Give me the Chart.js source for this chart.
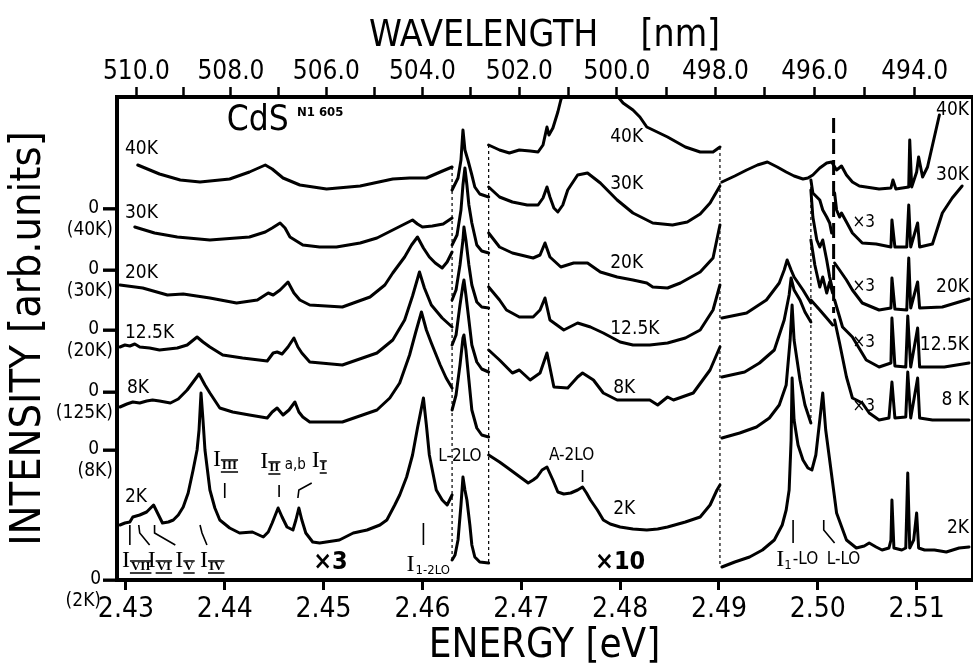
<!DOCTYPE html>
<html><head><meta charset="utf-8">
<script src="https://cdn.jsdelivr.net/npm/chart.js@4/dist/chart.umd.min.js"></script>
<style>html,body{margin:0;padding:0;background:#fff;}canvas{display:block;}</style>
</head><body>
<canvas id="c" width="973" height="666"></canvas>
<script>
// ---------- axis values ----------
const energyTicks = [2.43, 2.44, 2.45, 2.46, 2.47, 2.48, 2.49, 2.50, 2.51];
const wavelengthTicks = [510, 509, 508, 507, 506, 505, 504, 503, 502, 501, 500, 499, 498, 497, 496, 495, 494];
const zeroLevels = [0, 13.0, 18.8, 25.0, 31.0, 37.1];
const zeroNames = ['2K', '8K', '125K', '20K', '30K', '40K'];

// ---------- spectra: [energy eV, intensity arb.u.], null = segment break ----------
const T40 = [
[2.4312,41.5],[2.4334,40.6],[2.4355,40.0],[2.4375,39.8],[2.4405,40.1],[2.4425,40.8],[2.4441,41.5],[2.4448,41.1],[2.4459,40.2],[2.4476,39.5],[2.4503,39.1],[2.4537,39.4],[2.4570,40.1],[2.4587,40.2],[2.4604,40.2],[2.4618,40.8],[2.4630,41.3],
null,
[2.4630,39.0],[2.4636,40.2],[2.4639,42.0],[2.4641,45.0],[2.4643,43.0],[2.4646,42.0],[2.4650,40.5],[2.4653,39.3],[2.4658,38.6],[2.4667,38.3],
null,
[2.4667,43.5],[2.4678,43.0],[2.4688,42.7],[2.4698,43.0],[2.4709,42.9],[2.4717,42.8],[2.4722,43.5],[2.4726,45.3],[2.4728,44.5],[2.4732,45.2],[2.4737,46.8],[2.4740,48.0],[2.4754,52.0],[2.4780,53.0],[2.4798,48.3],[2.4803,47.7],[2.4813,47.0],[2.4820,46.3],[2.4827,45.3],[2.4848,44.3],[2.4866,43.3],[2.4881,42.8],[2.4894,42.8],[2.4901,43.3],
null,
[2.4903,39.8],[2.4916,40.4],[2.4928,41.0],[2.4939,41.5],[2.4949,41.8],[2.4959,41.3],[2.4968,40.8],[2.4976,40.4],[2.4985,40.1],[2.4990,40.2],[2.4995,40.5],[2.5002,41.2],[2.5009,41.7],[2.5014,41.8],[2.5019,41.0],[2.5024,41.4],[2.5029,40.5],[2.5035,39.8],[2.5042,39.4],[2.5062,39.1],[2.5074,39.2],[2.5076,40.0],[2.5079,39.1],[2.5092,39.3],[2.5093,44.0],[2.5095,39.3],[2.5100,40.8],[2.5102,42.3],[2.5106,40.3],[2.5111,41.3],[2.5123,46.5]
];
const T30 = [
[2.4309,35.3],[2.4329,34.7],[2.4352,34.3],[2.4385,34.0],[2.4425,34.3],[2.4441,34.8],[2.4448,35.2],[2.4456,35.7],[2.4461,35.2],[2.4466,34.3],[2.4479,33.5],[2.4496,33.3],[2.4513,33.3],[2.4537,33.7],[2.4554,34.2],[2.4570,35.0],[2.4582,35.6],[2.4590,36.0],[2.4595,35.6],[2.4600,35.3],[2.4610,35.4],[2.4621,35.6],[2.4630,36.2],
null,
[2.4630,33.5],[2.4635,34.5],[2.4639,37.0],[2.4641,39.5],[2.4643,41.2],[2.4645,39.5],[2.4647,37.5],[2.4650,35.7],[2.4655,33.5],[2.4660,32.9],[2.4667,32.7],
null,
[2.4667,39.3],[2.4678,38.3],[2.4691,37.8],[2.4706,37.5],[2.4717,37.5],[2.4722,38.2],[2.4726,39.3],[2.4729,38.3],[2.4733,37.2],[2.4737,36.8],[2.4742,37.5],[2.4747,39.0],[2.4757,40.5],[2.4767,40.7],[2.4780,39.7],[2.4797,38.0],[2.4813,36.7],[2.4833,35.7],[2.4853,35.5],[2.4868,35.8],[2.4881,36.6],[2.4891,37.7],[2.4901,39.4],
null,
[2.4993,40.0],[2.4995,38.7],[2.5002,38.0],[2.5005,37.0],[2.5009,36.3],[2.5012,35.7],[2.5014,34.7],
null,
[2.5017,38.7],[2.5019,37.0],[2.5022,36.3],[2.5024,36.7],[2.5029,35.8],[2.5035,34.7],[2.5045,33.7],[2.5059,33.6],[2.5074,33.3],[2.5075,36.0],[2.5078,33.3],[2.5090,33.3],[2.5092,37.5],[2.5094,33.3],[2.5101,35.7],[2.5103,33.3],[2.5116,33.6],[2.5126,36.7],[2.5136,38.2],[2.5146,39.4]
];
const T20 = [
[2.4294,29.5],[2.4317,29.2],[2.4342,28.5],[2.4358,28.6],[2.4385,28.2],[2.4412,27.7],[2.4433,28.0],[2.4444,28.7],[2.4449,28.5],[2.4456,29.0],[2.4464,29.8],[2.4470,28.7],[2.4476,28.0],[2.4486,27.5],[2.4519,27.3],[2.4547,28.3],[2.4562,29.5],[2.4570,30.7],[2.4582,32.3],[2.4589,33.5],[2.4595,34.3],[2.4601,33.2],[2.4607,32.3],[2.4613,31.7],[2.4620,31.2],[2.4625,31.8],[2.4630,32.8],
null,
[2.4630,28.0],[2.4634,29.0],[2.4638,31.5],[2.4641,34.0],[2.4642,35.3],[2.4644,34.0],[2.4647,31.5],[2.4650,29.5],[2.4655,27.8],[2.4660,27.3],[2.4667,27.2],
null,
[2.4667,34.7],[2.4678,33.3],[2.4691,32.7],[2.4712,32.2],[2.4719,32.5],[2.4724,33.7],[2.4729,32.3],[2.4740,31.3],[2.4753,31.7],[2.4767,31.7],[2.4780,30.8],[2.4797,30.3],[2.4813,30.0],[2.4827,29.7],[2.4833,29.3],[2.4848,29.2],[2.4861,29.7],[2.4881,30.8],[2.4894,32.2],[2.4901,35.5],
null,
[2.4903,26.2],[2.4928,26.7],[2.4948,28.0],[2.4961,29.7],[2.4966,31.0],[2.4969,32.0],[2.4973,31.0],[2.4976,30.3],[2.4985,29.0],[2.4993,27.7],
null,
[2.4993,39.0],[2.4995,36.3],[2.4999,34.0],[2.5002,33.3],[2.5005,34.0],[2.5009,32.0],[2.5012,30.3],[2.5015,29.0],
null,
[2.5017,31.7],[2.5022,31.0],[2.5029,30.0],[2.5035,29.0],[2.5045,27.7],[2.5062,27.0],[2.5074,27.2],[2.5075,30.2],[2.5078,27.1],[2.5090,27.0],[2.5092,32.2],[2.5094,27.2],[2.5101,29.8],[2.5103,27.2],[2.5126,27.3],[2.5153,28.1]
];
const T12 = [
[2.4294,23.3],[2.4299,23.5],[2.4304,23.4],[2.4309,23.6],[2.4314,23.3],[2.4324,23.2],[2.4334,23.0],[2.4352,23.2],[2.4362,23.5],[2.4372,24.3],[2.4378,23.8],[2.4385,23.3],[2.4398,22.5],[2.4418,22.2],[2.4443,21.9],[2.4449,22.7],[2.4453,22.8],[2.4458,22.6],[2.4464,23.3],[2.4470,24.2],[2.4474,23.3],[2.4478,22.7],[2.4486,21.8],[2.4519,21.5],[2.4554,22.7],[2.4570,24.0],[2.4582,26.0],[2.4590,28.4],[2.4597,30.8],[2.4602,29.2],[2.4609,27.5],[2.4620,26.2],[2.4630,25.3],
null,
[2.4630,23.5],[2.4634,24.5],[2.4638,27.5],[2.4641,29.5],[2.4642,30.0],[2.4644,28.5],[2.4647,26.0],[2.4650,23.5],[2.4655,21.8],[2.4660,21.1],[2.4667,20.8],
null,
[2.4667,29.3],[2.4678,28.0],[2.4685,27.0],[2.4698,26.3],[2.4712,26.3],[2.4719,27.0],[2.4724,28.2],[2.4729,26.0],[2.4743,25.0],[2.4757,25.7],[2.4770,25.3],[2.4783,24.7],[2.4800,23.8],[2.4813,23.5],[2.4830,23.5],[2.4848,23.7],[2.4866,24.2],[2.4881,25.0],[2.4894,27.0],[2.4901,29.5],
null,
[2.4903,20.3],[2.4926,20.8],[2.4941,21.7],[2.4956,23.0],[2.4966,26.0],[2.4971,28.5],[2.4973,30.2],[2.4976,29.0],[2.4982,28.0],[2.4987,26.8],[2.4993,25.8],
null,
[2.4993,34.0],[2.4997,31.5],[2.5002,29.3],[2.5005,30.3],[2.5009,28.7],[2.5012,29.8],[2.5015,28.7],
null,
[2.5017,28.0],[2.5025,25.3],[2.5035,24.3],[2.5049,22.0],[2.5062,21.3],[2.5074,21.7],[2.5075,26.2],[2.5078,21.4],[2.5089,21.3],[2.5091,26.4],[2.5094,21.3],[2.5101,25.2],[2.5103,21.3],[2.5128,21.3],[2.5153,21.7]
];
const T8 = [
[2.4294,17.3],[2.4301,17.6],[2.4307,17.8],[2.4314,17.7],[2.4321,17.9],[2.4327,18.0],[2.4334,17.9],[2.4345,17.7],[2.4353,18.1],[2.4362,19.0],[2.4368,19.8],[2.4374,20.6],[2.4380,19.5],[2.4385,18.7],[2.4395,17.2],[2.4408,16.8],[2.4425,16.5],[2.4443,16.2],[2.4448,16.8],[2.4453,17.2],[2.4459,16.5],[2.4465,17.0],[2.4471,17.8],[2.4475,16.8],[2.4479,16.3],[2.4486,15.8],[2.4519,15.8],[2.4554,17.0],[2.4567,18.2],[2.4577,19.7],[2.4587,22.5],[2.4593,24.7],[2.4599,26.8],[2.4604,25.0],[2.4609,23.7],[2.4618,21.5],[2.4624,20.2],[2.4630,19.2],
null,
[2.4630,17.0],[2.4634,18.5],[2.4638,21.5],[2.4641,24.2],[2.4642,24.5],[2.4644,23.0],[2.4647,20.0],[2.4650,17.0],[2.4655,15.2],[2.4660,14.5],[2.4667,14.3],
null,
[2.4667,23.0],[2.4678,22.0],[2.4691,20.7],[2.4698,21.0],[2.4709,20.0],[2.4719,20.7],[2.4726,22.7],[2.4733,19.3],[2.4747,19.2],[2.4757,20.3],[2.4762,20.7],[2.4773,20.0],[2.4783,18.7],[2.4797,18.0],[2.4830,18.0],[2.4838,17.5],[2.4848,18.3],[2.4854,18.0],[2.4874,18.7],[2.4891,21.0],[2.4901,23.3],
null,
[2.4903,14.2],[2.4921,14.7],[2.4938,15.3],[2.4951,16.2],[2.4961,17.5],[2.4968,19.5],[2.4972,24.0],[2.4974,27.5],[2.4976,24.0],[2.4982,20.0],[2.4987,17.5],[2.4993,15.7],
null,
[2.4993,28.0],[2.5002,27.0],[2.5009,26.2],[2.5015,25.5],
null,
[2.5017,26.0],[2.5022,23.7],[2.5029,20.3],[2.5035,18.2],[2.5045,17.7],[2.5052,16.7],[2.5062,16.0],[2.5072,16.2],[2.5075,19.8],[2.5078,16.2],[2.5089,16.3],[2.5091,20.8],[2.5094,16.2],[2.5101,20.2],[2.5103,16.2],[2.5116,16.0],[2.5153,16.0]
];
const T2 = [
[2.4294,5.5],[2.4299,5.7],[2.4304,5.8],[2.4307,6.3],[2.4314,6.5],[2.4321,6.8],[2.4328,7.5],[2.4332,6.7],[2.4337,5.7],[2.4343,5.8],[2.4348,6.0],[2.4353,6.5],[2.4358,7.3],[2.4363,8.7],[2.4368,11.0],[2.4372,13.0],[2.4374,15.0],[2.4376,18.7],[2.4378,16.0],[2.4380,13.0],[2.4385,9.0],[2.4390,7.2],[2.4395,6.0],[2.4405,5.2],[2.4415,4.7],[2.4428,4.8],[2.4439,4.3],[2.4444,4.8],[2.4448,5.7],[2.4454,7.2],[2.4458,6.3],[2.4463,5.3],[2.4469,5.0],[2.4472,6.0],[2.4475,7.2],[2.4478,6.0],[2.4482,4.7],[2.4489,3.8],[2.4496,3.7],[2.4516,4.0],[2.4530,4.7],[2.4544,5.0],[2.4557,5.5],[2.4564,6.0],[2.4572,7.5],[2.4577,8.5],[2.4584,10.3],[2.4590,12.5],[2.4595,15.2],[2.4601,18.2],[2.4604,15.5],[2.4607,12.5],[2.4610,11.0],[2.4614,9.0],[2.4620,8.0],[2.4625,7.5],[2.4630,8.5],
null,
[2.4630,2.0],[2.4633,2.5],[2.4636,4.0],[2.4639,7.5],[2.4641,10.3],[2.4643,9.0],[2.4645,8.0],[2.4648,5.5],[2.4650,3.5],[2.4653,2.3],[2.4658,1.8],[2.4667,1.7],
null,
[2.4667,12.5],[2.4678,11.8],[2.4685,11.3],[2.4696,10.5],[2.4707,9.7],[2.4712,10.0],[2.4716,10.3],[2.4721,11.0],[2.4726,11.3],[2.4732,10.0],[2.4737,8.8],[2.4743,8.6],[2.4750,8.7],[2.4757,9.0],[2.4762,9.3],[2.4766,8.7],[2.4770,8.0],[2.4777,7.0],[2.4783,6.0],[2.4790,5.6],[2.4800,5.3],[2.4813,5.1],[2.4827,5.0],[2.4838,5.1],[2.4848,5.3],[2.4866,5.8],[2.4881,6.3],[2.4891,7.5],[2.4898,9.0],[2.4901,9.5],
null,
[2.4903,1.3],[2.4916,1.8],[2.4931,2.3],[2.4944,3.0],[2.4956,4.0],[2.4964,5.5],[2.4968,7.0],[2.4971,9.0],[2.4973,14.0],[2.4974,20.2],[2.4976,16.0],[2.4980,13.5],[2.4985,12.0],[2.4990,11.2],[2.4994,11.0],[2.4998,12.5],[2.5002,16.0],[2.5005,18.7],[2.5008,15.0],[2.5012,12.0],[2.5019,6.7],[2.5029,4.0],[2.5039,3.2],[2.5047,3.4],[2.5052,3.7],[2.5059,3.3],[2.5065,3.0],[2.5072,3.2],[2.5074,4.0],[2.5075,8.0],[2.5077,3.2],[2.5085,3.0],[2.5089,3.2],[2.5091,10.7],[2.5093,3.2],[2.5097,4.0],[2.5100,6.7],[2.5102,3.2],[2.5108,3.0],[2.5118,3.0],[2.5130,2.8],[2.5143,3.2],[2.5153,3.3]
];
// segment boundaries (energy, top, bottom)
const dividers = [[2.4630, 41.3, 2.0], [2.4667, 43.5, 1.7], [2.4901, 43.3, 1.3], [2.4993, 39.3, 15.7]];
const longDivider = [2.5016, 46.2, 26.7];

// ---------- annotation texts ----------
const curveLabels = [
 ['40K',2.4299,43.1,'left'],['30K',2.4299,36.7,'left'],['20K',2.4299,30.7,'left'],['12.5K',2.4299,24.7,'left'],['8K',2.4301,19.2,'left'],['2K',2.4299,8.3,'left'],
 ['40K',2.4790,44.3,'left'],['30K',2.4790,39.6,'left'],['20K',2.4790,31.7,'left'],['12.5K',2.4790,25.1,'left'],['8K',2.4793,19.2,'left'],['2K',2.4793,7.1,'left'],
 ['40K',2.5153,47.0,'right'],['30K',2.5153,40.5,'right'],['20K',2.5153,29.3,'right'],['12.5K',2.5153,23.5,'right'],['8 K',2.5153,18.0,'right'],['2K',2.5153,5.2,'right']
];
const smallFactors = [['×3',2.5035,35.7],['×3',2.5035,29.3],['×3',2.5035,23.7],['×3',2.5035,17.3]];
const bigFactors = [['×3',2.4507,1.8],['×10',2.4800,1.8]];
const plainLabels = [['L-2LO',2.4616,12.3],['A-2LO',2.4728,12.4],['L-LO',2.5009,2.0]];
// [subscript, extra, energy, intensity, bars]
const romanLabels = [
 ['III','',2.4388,12.0,true],['II',' a,b',2.4436,11.8,true],['I','',2.4488,11.9,true],
 ['VII','',2.4296,1.9,true],['VI','',2.4322,1.9,true],['V','',2.4350,1.9,true],['IV','',2.4375,1.9,true],
 ['1-2LO','',2.4584,1.5,false]
];
const markers = [
 [[2.4400,9.7],[2.4400,8.2]], [[2.4455,9.5],[2.4455,8.3]], [[2.4474,8.2],[2.4475,9.0],[2.4488,9.7]],
 [[2.4304,5.5],[2.4304,3.5]], [[2.4313,5.5],[2.4314,4.7],[2.4324,3.5]], [[2.4329,5.5],[2.4329,4.7],[2.4350,3.5]],
 [[2.4375,5.5],[2.4377,4.7],[2.4382,3.5]], [[2.4601,5.7],[2.4601,3.5]], [[2.4762,11.0],[2.4762,9.8]],
 [[2.4975,6.0],[2.4975,3.7]], [[2.5006,6.0],[2.5006,5.0],[2.5017,3.7]]
];

// ---------- build ----------
const FAM = "'DejaVu Sans Condensed','DejaVu Sans',sans-serif";
const SERIF = "'Liberation Serif','DejaVu Serif',serif";
function toPts(arr){ const out=[]; let lx=null; arr.forEach(p=>{ if(p){out.push({x:p[0],y:p[1]}); lx=p[0];} else out.push({x:lx,y:null}); }); return out; }
const curveStyle = {borderColor:'#000', borderWidth:3, pointRadius:0, tension:0, spanGaps:false, fill:false, borderJoinStyle:'round', borderCapStyle:'round'};
const datasets = [T40,T30,T20,T12,T8,T2].map(t=>Object.assign({data:toPts(t)}, curveStyle));
dividers.forEach(d=>datasets.push({data:[{x:d[0],y:d[1]},{x:d[0],y:d[2]}], borderColor:'#000', borderWidth:1.2, borderDash:[3,3], pointRadius:0}));
datasets.push({data:[{x:longDivider[0],y:longDivider[1]},{x:longDivider[0],y:longDivider[2]}], borderColor:'#000', borderWidth:3, borderDash:[15,6], pointRadius:0});

const annot = {
 id:'annot',
 afterDatasetsDraw(chart){
  const {ctx, scales:{x,y}} = chart;
  const P=(e,i)=>[x.getPixelForValue(e), y.getPixelForValue(i)];
  ctx.save(); ctx.fillStyle='#000'; ctx.strokeStyle='#000';
  // zero-level dashes on the intensity axis
  ctx.lineWidth=3; ctx.lineCap='butt';
  zeroLevels.forEach(v=>{ const py=y.getPixelForValue(v); ctx.beginPath(); ctx.moveTo(x.left-14,py); ctx.lineTo(x.left+1,py); ctx.stroke(); });
  ctx.lineWidth=1.6;
  markers.forEach(m=>{ ctx.beginPath(); m.forEach((p,k)=>{const [px,py]=P(p[0],p[1]); k?ctx.lineTo(px,py):ctx.moveTo(px,py);}); ctx.stroke(); });
  ctx.textBaseline='middle';
  ctx.font='19px '+FAM;
  curveLabels.forEach(l=>{ const [px,py]=P(l[1],l[2]); ctx.textAlign=l[3]; ctx.fillText(l[0],px,py); });
  ctx.textAlign='left'; ctx.font='17px '+FAM;
  smallFactors.forEach(l=>{ const [px,py]=P(l[1],l[2]); ctx.fillText(l[0],px,py); });
  ctx.textAlign='center'; ctx.font='bold 25px '+FAM;
  bigFactors.forEach(l=>{ const [px,py]=P(l[1],l[2]); ctx.fillText(l[0],px,py); });
  ctx.textAlign='left'; ctx.font='17px '+FAM;
  plainLabels.forEach(l=>{ const [px,py]=P(l[1],l[2]); ctx.fillText(l[0],px,py); });
  romanLabels.forEach(l=>{
    const [px,py]=P(l[2],l[3]);
    ctx.font='24px '+SERIF; ctx.fillText('I',px,py);
    const w=ctx.measureText('I').width+1;
    const sy=py+6;
    ctx.font=(l[4]?'bold 13px ':'13px ')+(l[4]?SERIF:FAM);
    ctx.fillText(l[0],px+w,sy);
    const sw=ctx.measureText(l[0]).width;
    if(l[4]){ ctx.lineWidth=1.6; ctx.beginPath(); ctx.moveTo(px+w-1,sy-6); ctx.lineTo(px+w+sw+1,sy-6); ctx.moveTo(px+w-1,sy+6); ctx.lineTo(px+w+sw+1,sy+6); ctx.stroke(); }
    if(l[1]){ ctx.font='15px '+FAM; ctx.fillText(l[1],px+w+sw+1,sy-3); }
  });
  { const [px,py]=P(2.4958,2.0); ctx.font='24px '+SERIF; ctx.fillText('I',px,py);
    const w=ctx.measureText('I').width; ctx.font='13px '+FAM; ctx.fillText('1',px+w,py+6);
    const w2=ctx.measureText('1').width; ctx.font='17px '+FAM; ctx.fillText('-LO',px+w+w2+1,py); }
  { const [px,py]=P(2.4402,45.9); ctx.font='35px '+FAM; ctx.fillText('CdS',px,py);
    const [qx,qy]=P(2.4473,46.7); ctx.font='bold 13px '+FAM; ctx.fillText('N1 605',qx,qy); }
  ctx.restore();
 }
};

new Chart(document.getElementById('c'), {
 type:'line',
 data:{datasets},
 plugins:[annot],
 options:{
  responsive:false, animation:false, devicePixelRatio:1,
  layout:{padding:0},
  plugins:{legend:{display:false}, tooltip:{enabled:false}},
  scales:{
   x:{type:'linear', position:'bottom', min:2.4291, max:2.5156,
      afterBuildTicks:s=>{s.ticks=energyTicks.map(v=>({value:v}));},
      afterFit:s=>{s.height=86;},
      ticks:{callback:v=>Number(v).toFixed(2), font:{family:FAM,size:28}, color:'#000', padding:3, autoSkip:false, maxRotation:0},
      grid:{display:true, drawOnChartArea:false, drawTicks:true, tickLength:10, tickWidth:3, tickColor:'#000'},
      border:{display:true, width:4, color:'#000'},
      title:{display:true, text:'ENERGY [eV]', color:'#000', font:{family:FAM,size:40,lineHeight:1}, padding:{top:0,bottom:-1}}},
   x2:{type:'linear', position:'top', min:2.4291, max:2.5156,
      afterBuildTicks:s=>{s.ticks=wavelengthTicks.map(l=>({value:1239.84/l}));},
      afterFit:s=>{s.height=97;},
      ticks:{callback:(v,i)=>{const l=wavelengthTicks[i]; return (l%2===0)?l.toFixed(1):'';}, font:{family:FAM,size:26}, color:'#000', padding:-1, autoSkip:false, maxRotation:0},
      grid:{display:true, drawOnChartArea:false, drawTicks:true, tickLength:10, tickWidth:2.5, tickColor:'#000'},
      border:{display:true, width:4, color:'#000'},
      title:{display:true, text:'WAVELENGTH    [nm]', color:'#000', font:{family:FAM,size:37,lineHeight:1}, padding:{top:18,bottom:0}}},
   y:{type:'linear', position:'left', min:0, max:48.3,
      afterBuildTicks:s=>{s.ticks=zeroLevels.map(v=>({value:v}));},
      afterFit:s=>{s.width=117;},
      ticks:{callback:v=>{const i=zeroLevels.indexOf(v); const n=zeroNames[i]; return n==='2K'?['0\u2002\u2009','(2K)\u2002\u2009']:['0\u2002 ','('+n+')'];}, font:{family:FAM,size:19}, color:'#000', padding:-10, labelOffset:10, autoSkip:false},
      grid:{display:true, drawOnChartArea:false, drawTicks:true, tickLength:14, tickWidth:2.5, tickColor:'#000'},
      border:{display:true, width:4, color:'#000'},
      title:{display:true, text:'INTENSITY [arb.units]', color:'#000', font:{family:FAM,size:43,lineHeight:1}, padding:{top:7,bottom:0}}},
   y2:{type:'linear', position:'right', display:true,
      afterFit:s=>{s.width=1;},
      ticks:{display:false}, grid:{display:false},
      border:{display:true, width:2, color:'#000'}}
  }
 }
});
</script>
</body></html>
